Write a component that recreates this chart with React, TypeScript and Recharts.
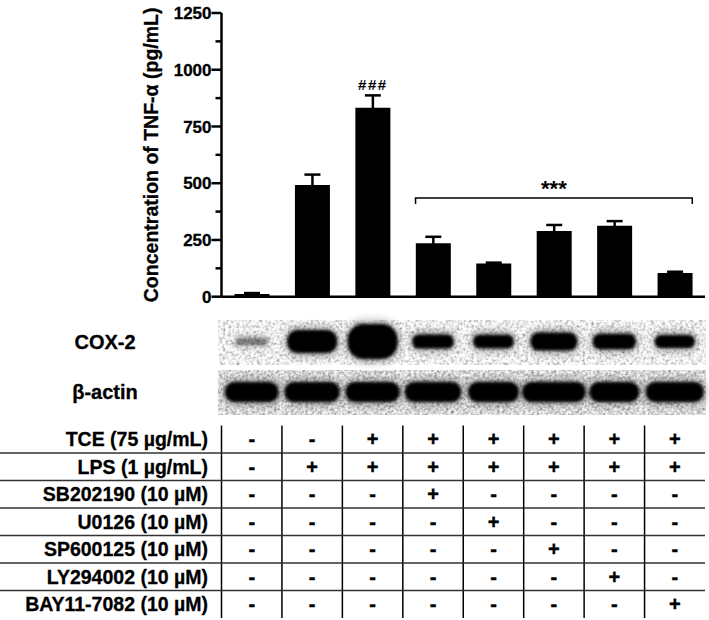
import React from 'react';
import { BarChart, Bar, XAxis, YAxis, ErrorBar, LabelList, ReferenceLine } from 'recharts';

// ---------- data ----------
const groups = ['G1', 'G2', 'G3', 'G4', 'G5', 'G6', 'G7', 'G8'];
const tnfValues = [12, 492, 832, 236, 146, 290, 313, 104];
const tnfErrors = [4, 46, 55, 28, 4, 26, 20, 6];
const sigMarks = ['', '', '###', '', '', '', '', ''];
const bracketFrom = 'G4';
const bracketTo = 'G8';
const bracketValue = 435;
const bracketText = '***';

const yTicks = [0, 125, 250, 375, 500, 625, 750, 875, 1000, 1125, 1250];
const yMajor = [0, 250, 500, 750, 1000, 1250];
const yLabel = 'Concentration of TNF-\u03b1 (pg/mL)';

const blotLabels = ['COX-2', '\u03b2-actin'];
const cox2Density = [0.1, 0.95, 1.6, 0.45, 0.42, 0.67, 0.52, 0.4];
const actinDensity = [0.97, 1.0, 0.98, 1.02, 0.92, 1.15, 0.9, 1.05];

const rowLabels = [
  'TCE (75 \u00b5g/mL)',
  'LPS (1 \u00b5g/mL)',
  'SB202190 (10 \u00b5M)',
  'U0126 (10 \u00b5M)',
  'SP600125 (10 \u00b5M)',
  'LY294002 (10 \u00b5M)',
  'BAY11-7082 (10 \u00b5M)',
];
const rowTCE = ['-', '-', '+', '+', '+', '+', '+', '+'];
const rowLPS = ['-', '+', '+', '+', '+', '+', '+', '+'];
const rowSB = ['-', '-', '-', '+', '-', '-', '-', '-'];
const rowU0126 = ['-', '-', '-', '-', '+', '-', '-', '-'];
const rowSP = ['-', '-', '-', '-', '-', '+', '-', '-'];
const rowLY = ['-', '-', '-', '-', '-', '-', '+', '-'];
const rowBAY = ['-', '-', '-', '-', '-', '-', '-', '+'];
const tableRows = [rowTCE, rowLPS, rowSB, rowU0126, rowSP, rowLY, rowBAY];

const data = groups.map((g, i) => ({ name: g, value: tnfValues[i], err: tnfErrors[i], sig: sigMarks[i] }));

// ---------- layout / style ----------
const W = 709;
const H = 620;
const FONT = '"Liberation Sans", Arial, Helvetica, sans-serif';
const Y_AXIS_W = 221.5;
const MARGIN = { top: 13, right: 4, left: 0, bottom: 2 };
const PLOT_W = W - Y_AXIS_W - MARGIN.left - MARGIN.right;
const BAND = PLOT_W / groups.length;
const HALF = BAND / 2;
const BAR_W = 35;
const MAIN_AXIS_H = 22.3;
const COX_H = 49;
const ACTIN_H = 57.5;
const ROW_H = 27.5;

const idx = (p: any) => (p.index ?? (p.payload && p.payload.index) ?? 0);

const YTick = (props: any) => {
  const { x, y, payload } = props;
  const major = yMajor.includes(payload.value);
  return (
    <g>
      <line x1={x - (major ? 10 : 6)} x2={x} y1={y} y2={y} stroke="#000" strokeWidth={2.5} />
      {major && (
        <text x={x - 10} y={y} dy="0.36em" textAnchor="end" fontSize={17} fontWeight="bold" fontFamily={FONT} fill="#000" stroke="#000" strokeWidth={0.3}>
          {payload.value}
        </text>
      )}
    </g>
  );
};

const YLabel = (p: any) => {
  const vb = p.viewBox || { x: 0, y: 0, width: Y_AXIS_W, height: 280 };
  const cx = vb.x + vb.width - 63;
  const cy = vb.y + vb.height / 2;
  return (
    <text x={cx} y={cy} transform={`rotate(-90, ${cx}, ${cy})`} textAnchor="middle" fontSize={19.5} fontWeight="bold" fontFamily={FONT} fill="#000" stroke="#000" strokeWidth={0.3}>
      {yLabel}
    </text>
  );
};

const SigLabel = (p: any) => {
  const { x, y, width, value } = p;
  if (!value) return null;
  return (
    <text x={x + width / 2} y={y - 18} textAnchor="middle" fontSize={15} fontWeight="bold" fontFamily={FONT} fill="#000" letterSpacing={1.5}>
      {value}
    </text>
  );
};

const Bracket = (p: any) => {
  const { x1, x2, y1 } = p;
  const l = x1 - BAR_W / 2;
  const r = x2 + BAR_W / 2;
  return (
    <g>
      <path d={`M${l},${y1 + 6} L${l},${y1} L${r},${y1} L${r},${y1 + 6}`} fill="none" stroke="#000" strokeWidth={1.5} />
      <text x={(l + r) / 2} y={y1 - 2} textAnchor="middle" fontSize={22} fontWeight="bold" fontFamily={FONT} fill="#000">
        {bracketText}
      </text>
    </g>
  );
};

const noiseFilter = (id: string, seed: number, slope: number, intercept: number) => (
  <filter id={id} x="0" y="0" width="100%" height="100%">
    <feTurbulence type="fractalNoise" baseFrequency="0.35" numOctaves="3" seed={seed} result="n" />
    <feColorMatrix in="n" type="saturate" values="0" result="g" />
    <feComponentTransfer in="g" result="a">
      <feFuncR type="linear" slope={slope} intercept={intercept} />
      <feFuncG type="linear" slope={slope} intercept={intercept} />
      <feFuncB type="linear" slope={slope} intercept={intercept} />
      <feFuncA type="linear" slope="0" intercept="1" />
    </feComponentTransfer>
    <feComposite in="a" in2="SourceGraphic" operator="in" />
  </filter>
);

const Defs = () => (
  <defs>
    {noiseFilter('noiseLight', 5, 1.7, 0.0)}
    {noiseFilter('noiseDark', 11, 1.6, -0.1)}
    <filter id="bandBlur" x="-30%" y="-80%" width="160%" height="260%">
      <feGaussianBlur stdDeviation="1.8" />
    </filter>
    <filter id="haloBlur" x="-30%" y="-80%" width="160%" height="260%">
      <feGaussianBlur stdDeviation="4" />
    </filter>
  </defs>
);

const BlotTick = (props: any) => {
  const { x, y, kind } = props;
  const i = idx(props);
  const isCox = kind === 'cox';
  const top = y + (isCox ? 1 : 2);
  const stripH = 45;
  const d = isCox ? cox2Density[i] : actinDensity[i];
  const h = isCox ? 6 + 18 * d : 20;
  const w = isCox ? Math.min(50, 30 + 25 * d) : 55 * d;
  const op = isCox ? Math.min(1, 0.2 + 2 * d) : 1;
  const cy = top + (isCox ? 21.5 : 22);
  return (
    <g>
      {i === 0 && isCox && <Defs />}
      {i === 0 && (
        <>
          <rect x={x - HALF - 3.5} y={top} width={BAND * groups.length + 4.5} height={stripH} fill="#fff" filter={`url(#${isCox ? 'noiseLight' : 'noiseDark'})`} />
          <text x={x - HALF - 116.5} y={top + stripH / 2 - 1} dy="0.35em" textAnchor="middle" fontSize={20} fontWeight="bold" fontFamily={FONT} fill="#000" stroke="#000" strokeWidth={0.3}>
            {isCox ? blotLabels[0] : blotLabels[1]}
          </text>
        </>
      )}
      <rect x={x - w / 2 - 2} y={cy - h / 2 - 3} width={w + 4} height={h + 6} rx={(h + 6) / 2.2} fill="#000" opacity={op * 0.35} filter="url(#haloBlur)" />
      <rect x={x - w / 2} y={cy - h / 2} width={w} height={h} rx={h / 2.2} fill="#000" opacity={op} filter="url(#bandBlur)" />
    </g>
  );
};

const RowTick = (props: any) => {
  const { x, y, row } = props;
  const i = idx(props);
  const sym = tableRows[row][i];
  return (
    <g>
      <line x1={x - HALF} x2={x - HALF} y1={y} y2={y + ROW_H} stroke="#000" strokeWidth={1.5} />
      {row > 0 && <line x1={i === 0 ? 0 : x - HALF} x2={x + HALF} y1={y} y2={y} stroke="#333" strokeWidth={1.5} />}
      {i === 0 && (
        <text x={x - HALF - 13.5} y={y + ROW_H / 2} dy="0.36em" textAnchor="end" fontSize={19.5} fontWeight="bold" fontFamily={FONT} fill="#000" stroke="#000" strokeWidth={0.3}>
          {rowLabels[row]}
        </text>
      )}
      <text x={x} y={y + ROW_H / 2} dy="0.36em" textAnchor="middle" fontSize={20} fontWeight="bold" fontFamily={FONT} fill="#000" stroke="#000" strokeWidth={0.4}>
        {sym}
      </text>
    </g>
  );
};

export default function App() {
  return (
    <div style={{ position: 'absolute', left: 0, top: 0, width: W, height: H, background: '#fff' }}>
      <BarChart width={W} height={H} data={data} margin={MARGIN}>
        <YAxis
          type="number"
          domain={[0, 1250]}
          ticks={yTicks}
          interval={0}
          width={Y_AXIS_W}
          axisLine={{ stroke: '#000', strokeWidth: 2.5 }}
          tickLine={false}
          tickSize={0}
          tickMargin={0}
          tick={<YTick />}
          label={YLabel}
        />
        <XAxis
          dataKey="name"
          height={MAIN_AXIS_H}
          axisLine={{ stroke: '#000', strokeWidth: 2.5 }}
          tickLine={false}
          tick={false}
        />
        <XAxis xAxisId="b1" dataKey="name" height={COX_H} axisLine={false} tickLine={false} tickSize={0} tickMargin={0} interval={0}
          tick={(p: any) => <BlotTick {...p} kind="cox" />} />
        <XAxis xAxisId="b2" dataKey="name" height={ACTIN_H} axisLine={false} tickLine={false} tickSize={0} tickMargin={0} interval={0}
          tick={(p: any) => <BlotTick {...p} kind="actin" />} />
        {tableRows.map((_, r) => (
          <XAxis key={r} xAxisId={`t${r}`} dataKey="name" height={ROW_H} axisLine={false} tickLine={false} tickSize={0} tickMargin={0} interval={0}
            tick={(p: any) => <RowTick {...p} row={r} />} />
        ))}
        <Bar dataKey="value" fill="#000" barSize={BAR_W} isAnimationActive={false}>
          <ErrorBar dataKey="err" width={8} strokeWidth={2.5} stroke="#000" direction="y" />
          <LabelList dataKey="sig" content={SigLabel} />
        </Bar>
        <ReferenceLine
          segment={[{ x: bracketFrom, y: bracketValue }, { x: bracketTo, y: bracketValue }]}
          shape={Bracket}
        />
      </BarChart>
    </div>
  );
}
